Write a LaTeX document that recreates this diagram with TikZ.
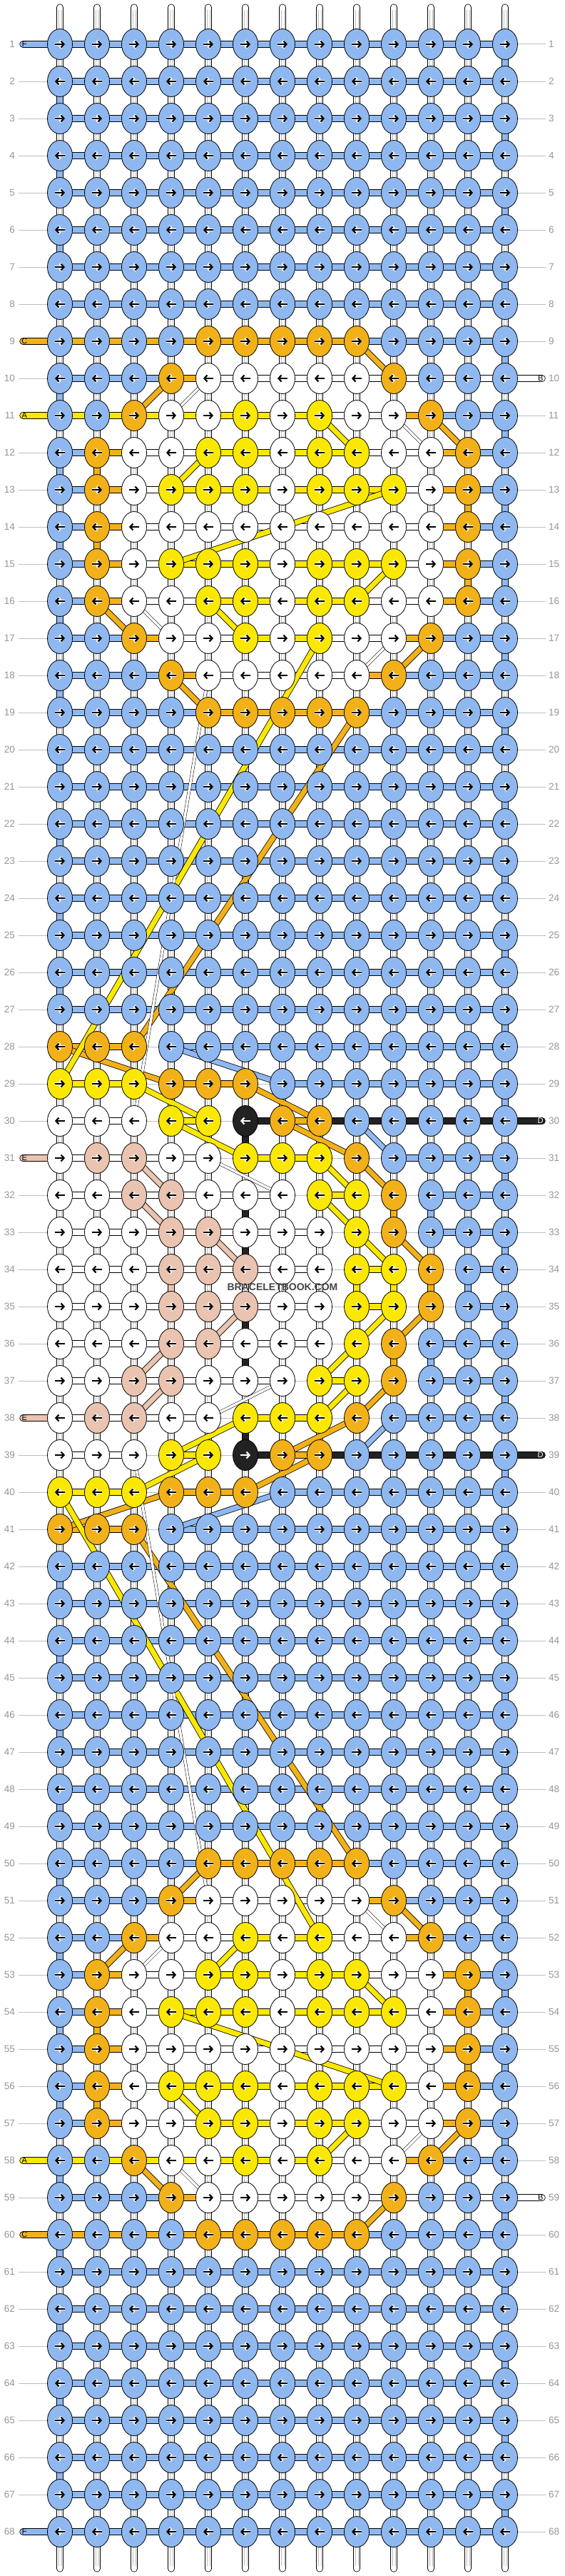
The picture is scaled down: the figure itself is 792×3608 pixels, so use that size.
\documentclass[tikz,border=0pt]{standalone}
\usepackage{fontspec}
\setmainfont{Liberation Sans}
\usetikzlibrary{shapes.geometric,arrows.meta,backgrounds}

\definecolor{cb}{RGB}{143,184,240}
\definecolor{co}{RGB}{242,177,24}
\definecolor{cy}{RGB}{250,232,0}
\definecolor{cw}{RGB}{255,255,255}
\definecolor{ck}{RGB}{34,34,34}
\definecolor{cp}{RGB}{234,196,176}
\definecolor{guidegrey}{RGB}{190,190,190}
\definecolor{labelgrey}{RGB}{150,150,150}
\definecolor{wmgrey}{RGB}{68,68,68}

\tikzset{
  knot/.style={ellipse, draw=black, line width=.8pt, minimum width=35pt, minimum height=43pt, inner sep=0pt},
  bar/.style={line width=.8pt, double=#1, double distance=8.4pt},
  vcon/.style={line width=.8pt, double=#1, double distance=8.4pt},
  band/.style={line width=.8pt, double=#1, double distance=7pt},
  thinband/.style={line width=.5pt, double=white, double distance=3.5pt},
  strand/.style={line width=.8pt, double=white, double distance=8.4pt, line cap=round},
  strandline/.style={draw=guidegrey, line width=.5pt},
  thread/.style={line width=.8pt, double=#1, double distance=8.4pt, line cap=round},
  guide/.style={draw=guidegrey, line width=1pt},
  halo/.style={white, line width=4.4pt, -{Straight Barb[length=4pt,width=10pt]}},
  arrline/.style={line width=2.2pt, -{Straight Barb[length=4pt,width=9pt]}},
  rowlab/.style={text=labelgrey, font=\fontsize{13.5}{15}\selectfont, inner sep=0pt},
  endlab/.style={font=\fontsize{11}{12}\selectfont, inner sep=0pt},
  wmark/.style={text=wmgrey, font=\fontsize{14}{16}\selectfont\bfseries, inner sep=0pt}
}

% walk through the letters of a row
\newcount\colno
\def\dropit#1{}
\def\useit#1{#1}
\def\knotloop#1{\ifx\relax#1\expandafter\dropit\else\expandafter\useit\fi{\advance\colno by 1 \putknot{#1}\knotloop}}
\def\barloop#1{\ifx\relax#1\expandafter\dropit\else\expandafter\useit\fi{\advance\colno by 1 \putbar{#1}\barloop}}

\def\putknot#1{%
  \node[knot, fill=c#1] (k\rr-\the\colno) at ({32+52*\the\colno},{10+52*\rr}) {};
  \if k#1%
    \draw[arrline, white] ([xshift=\ta]k\rr-\the\colno.center) -- ([xshift=\tb]k\rr-\the\colno.center);%
  \else
    \draw[halo] ([xshift=\ta]k\rr-\the\colno.center) -- ([xshift=\tb]k\rr-\the\colno.center);%
    \draw[arrline, black] ([xshift=\ta]k\rr-\the\colno.center) -- ([xshift=\tb]k\rr-\the\colno.center);%
  \fi}

\def\putbar#1{%
  \if n#1\else
    \edef\nx{\the\numexpr\colno+1\relax}%
    \draw[bar=c#1] (k\rr-\the\colno.center) -- (k\rr-\nx.center);%
  \fi}

\begin{document}
\begin{tikzpicture}[x=1pt, y=-1pt]
\useasboundingbox (0,0) rectangle (792,3608);
\begin{pgfonlayer}{background}
  \fill[white] (0,0) rectangle (792,3608);
\end{pgfonlayer}

% warp strands
\foreach \cc in {1,...,13}{
  \coordinate (st\cc) at ({32+52*\cc},10.5);
  \coordinate (sb\cc) at ({32+52*\cc},3597.5);
  \begin{pgfonlayer}{background}
    \draw[strand] (st\cc) -- (sb\cc);
    \draw[strandline] ([xshift=-2pt,yshift=-4pt]st\cc) -- ([xshift=-2pt,yshift=4pt]sb\cc);
    \draw[strandline] ([xshift=2pt,yshift=-4pt]st\cc) -- ([xshift=2pt,yshift=4pt]sb\cc);
  \end{pgfonlayer}
}

% knots and row strings
\foreach \rr/\kline/\bline in {
  1/bbbbbbbbbbbbb/bbbbbbbbbbbb, 2/bbbbbbbbbbbbb/bbbbbbbbbbbb,
  3/bbbbbbbbbbbbb/bbbbbbbbbbbb, 4/bbbbbbbbbbbbb/bbbbbbbbbbbb,
  5/bbbbbbbbbbbbb/bbbbbbbbbbbb, 6/bbbbbbbbbbbbb/bbbbbbbbbbbb,
  7/bbbbbbbbbbbbb/bbbbbbbbbbbb, 8/bbbbbbbbbbbbb/bbbbbbbbbbbb,
  9/bbbbooooobbbb/oooooooobbbb, 10/bbbowwwwwobbb/bbbowwwwwwww,
  11/bbowwywywwobb/yyyyyyywwobb, 12/bowwyywyywwob/bowwyyyywwob,
  13/bowyyywyyywob/bowyyyyyywob, 14/bowwwwwwwwwob/bowwwwwwwwob,
  15/bowyyywyyywob/bowyyyyyywob, 16/bowwyywyywwob/bowwyyyywwob,
  17/bbowwywywwobb/bbowwyywwobb, 18/bbbowwwwwobbb/bbbowwwwobbb,
  19/bbbbooooobbbb/bbbboooobbbb, 20/bbbbbbbbbbbbb/bbbbbbbbbbbb,
  21/bbbbbbbbbbbbb/bbbbbbbbbbbb, 22/bbbbbbbbbbbbb/bbbbbbbbbbbb,
  23/bbbbbbbbbbbbb/bbbbbbbbbbbb, 24/bbbbbbbbbbbbb/bbbbbbbbbbbb,
  25/bbbbbbbbbbbbb/bbbbbbbbbbbb, 26/bbbbbbbbbbbbb/bbbbbbbbbbbb,
  27/bbbbbbbbbbbbb/bbbbbbbbbbbb, 28/ooobbbbbbbbbb/oonbbbbbbbbb,
  29/yyyooobbbbbbb/yynoonbbbbbb, 30/wwwyykoobbbbb/wwnynkokkkkk,
  31/wppwwyyyobbbb/wwwwnyynnbbb, 32/wwppwwwyyobbb/wwwwwwnynnbb,
  33/wwwppwwwyobbb/wwwwwwwnnnbb, 34/wwwpppwwyyobb/wwwwwwwnynnb,
  35/wwwpppwwyyobb/wwwwwwwnynnb, 36/wwwppwwwyobbb/wwwwwwwnnnbb,
  37/wwppwwwyyobbb/wwwwwwnynnbb, 38/wppwwyyyobbbb/wwwwnyynnbbb,
  39/wwwyykoobbbbb/wwnynkokkkkk, 40/yyyooobbbbbbb/yynoonbbbbbb,
  41/ooobbbbbbbbbb/oonbbbbbbbbb, 42/bbbbbbbbbbbbb/bbbbbbbbbbbb,
  43/bbbbbbbbbbbbb/bbbbbbbbbbbb, 44/bbbbbbbbbbbbb/bbbbbbbbbbbb,
  45/bbbbbbbbbbbbb/bbbbbbbbbbbb, 46/bbbbbbbbbbbbb/bbbbbbbbbbbb,
  47/bbbbbbbbbbbbb/bbbbbbbbbbbb, 48/bbbbbbbbbbbbb/bbbbbbbbbbbb,
  49/bbbbbbbbbbbbb/bbbbbbbbbbbb, 50/bbbbooooobbbb/bbbboooobbbb,
  51/bbbowwwwwobbb/bbbowwwwobbb, 52/bbowwywywwobb/bbowwyywwobb,
  53/bowwyywyywwob/bowwyyyywwob, 54/bowyyywyyywob/bowyyyyyywob,
  55/bowwwwwwwwwob/bowwwwwwwwob, 56/bowyyywyyywob/bowyyyyyywob,
  57/bowwyywyywwob/bowwyyyywwob, 58/bbowwywywwobb/yyyyyyywwobb,
  59/bbbowwwwwobbb/bbbowwwwwwww, 60/bbbbooooobbbb/oooooooobbbb,
  61/bbbbbbbbbbbbb/bbbbbbbbbbbb, 62/bbbbbbbbbbbbb/bbbbbbbbbbbb,
  63/bbbbbbbbbbbbb/bbbbbbbbbbbb, 64/bbbbbbbbbbbbb/bbbbbbbbbbbb,
  65/bbbbbbbbbbbbb/bbbbbbbbbbbb, 66/bbbbbbbbbbbbb/bbbbbbbbbbbb,
  67/bbbbbbbbbbbbb/bbbbbbbbbbbb, 68/bbbbbbbbbbbbb/bbbbbbbbbbbb}{
  \ifodd\rr\relax \def\ta{-7pt}\def\tb{7pt}\else \def\ta{7pt}\def\tb{-7pt}\fi
  \colno=0 \expandafter\knotloop\kline\relax
  \node[rowlab, anchor=east] (ll\rr) at (21,{10+52*\rr}) {\rr};
  \node[rowlab, anchor=west] (rl\rr) at (769,{10+52*\rr}) {\rr};
  \begin{pgfonlayer}{background}
    \draw[guide] ([xshift=5pt]ll\rr.east) -- ([xshift=-4pt]rl\rr.west);
    \colno=0 \expandafter\barloop\bline\relax
  \end{pgfonlayer}
}

\begin{pgfonlayer}{background}
% turns at the edges
\foreach \rr in {1,3,...,67}{
  \pgfmathtruncatemacro\ss{\rr+1}
  \draw[vcon=cb] (k\rr-13.center) -- (k\ss-13.center);
}
\foreach \rr in {2,4,6,10,12,14,16,18,20,22,24,26,42,44,46,48,50,52,54,56,58,60,62,64,66}{
  \pgfmathtruncatemacro\ss{\rr+1}
  \draw[vcon=cb] (k\rr-1.center) -- (k\ss-1.center);
}
\foreach \rr/\cc/\col in {12/2/o,14/2/o,13/12/o,15/12/o,30/6/k,32/6/k,33/6/k,32/10/o,32/11/b,
  34/4/p,34/9/y,34/10/y,34/11/o,34/12/b,35/6/k,36/6/k,38/6/k,36/10/o,36/11/b,
  53/12/o,55/12/o,54/2/o,56/2/o}{
  \pgfmathtruncatemacro\ss{\rr+1}
  \draw[vcon=c\col] (k\rr-\cc.center) -- (k\ss-\cc.center);
}

% loose ends
\foreach \rr/\col in {1/b,9/o,11/y,31/p,38/p,58/y,60/o,68/b}{
  \coordinate (tl\rr) at (32.3,{10+52*\rr});
  \draw[thread=c\col] (tl\rr) -- (k\rr-1.center);
}
\foreach \rr/\col in {10/w,30/k,39/k,59/w}{
  \coordinate (tr\rr) at (759.7,{10+52*\rr});
  \draw[thread=c\col] (tr\rr) -- (k\rr-13.center);
}

% carried strings
\foreach \a/\b in {9-9/10-10, 10-4/11-3, 11-11/12-12, 16-2/17-3, 17-11/18-10, 18-4/19-5,
  19-9/28-3, 28-1/29-4, 29-6/30-8, 30-7/31-9, 31-9/32-10, 33-10/34-11,
  60-9/59-10, 59-4/58-3, 58-11/57-12, 53-2/52-3, 52-11/51-10, 51-4/50-5,
  50-9/41-3, 41-1/40-4, 40-6/39-8, 39-7/38-9, 38-9/37-10, 36-10/35-11}
  \draw[band=co] (k\a.center) -- (k\b.center);
\foreach \a/\b in {11-8/12-9, 12-5/13-4, 13-10/15-4, 15-10/16-9, 16-5/17-6, 17-8/29-1,
  29-3/30-5, 30-4/31-6, 31-8/32-9, 32-8/33-9, 33-9/34-10,
  58-8/57-9, 57-5/56-4, 56-10/54-4, 54-10/53-9, 53-5/52-6, 52-8/40-1,
  40-3/39-5, 39-4/38-6, 38-8/37-9, 37-8/36-9, 36-9/35-10}
  \draw[band=cy] (k\a.center) -- (k\b.center);
\foreach \a/\b in {28-4/29-7, 30-9/31-10, 41-4/40-7, 39-9/38-10}
  \draw[band=cb] (k\a.center) -- (k\b.center);
\foreach \a/\b in {31-3/32-4, 32-3/33-4, 33-5/34-6, 38-3/37-4, 37-3/36-4, 36-5/35-6}
  \draw[band=cp] (k\a.center) -- (k\b.center);
\foreach \a/\b in {10-5/11-4, 11-10/12-11, 16-3/17-4, 17-10/18-9, 18-5/30-3, 31-5/32-7,
  59-5/58-4, 58-10/57-11, 53-3/52-4, 52-10/51-9, 51-5/39-3, 38-5/37-7}
  \draw[thinband] (k\a.center) -- (k\b.center);
\end{pgfonlayer}

% letters on the loose ends
\foreach \rr/\lt in {1/F,9/C,11/A,31/E,38/E,58/A,60/C,68/F}
  \node[endlab] (el\rr) at ([xshift=2pt]tl\rr) {\lt};
\foreach \rr/\lt/\tc in {10/B/black,30/D/white,39/D/white,59/B/black}
  \node[endlab, text=\tc] (er\rr) at ([xshift=-2pt]tr\rr) {\lt};

\node[wmark] (wm) at (396,1803) {BRACELETBOOK.COM};
\end{tikzpicture}
\end{document}
